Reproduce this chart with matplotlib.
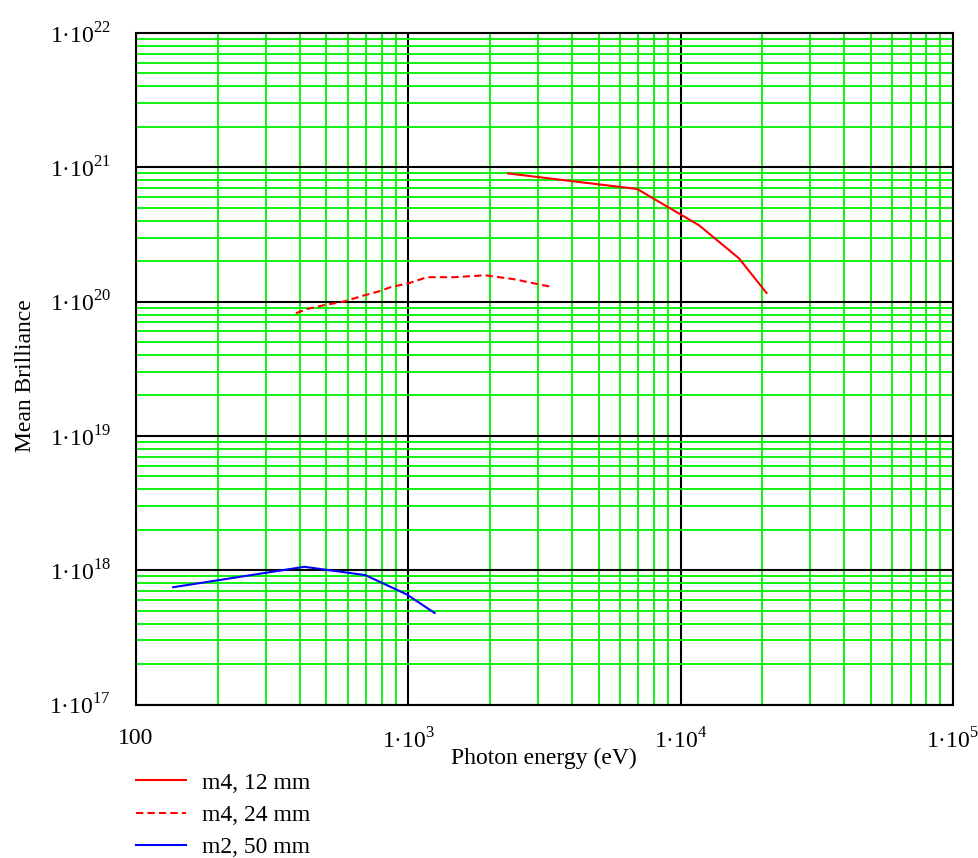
from matplotlib import pyplot as plt

# m4, 12 mm
e_m4_12 = [2330, 6930, 11700, 16400, 20700]
b_m4_12 = [9.0e20, 6.9e20, 3.7e20, 2.1e20, 1.16e20]
# m4, 24 mm
e_m4_24 = [387, 424, 489, 578, 685, 789, 859, 1003, 1172, 1469, 1919, 2438, 2890, 3404]
b_m4_24 = [8.2e19, 8.8e19, 9.4e19, 1.0e20, 1.11e20, 1.2e20, 1.28e20, 1.37e20,
           1.52e20, 1.52e20, 1.57e20, 1.47e20, 1.37e20, 1.28e20]
# m2, 50 mm
e_m2_50 = [137, 415, 695, 988, 1250]
b_m2_50 = [7.47e17, 1.06e18, 9.2e17, 6.6e17, 4.8e17]

x_ticks = [1e2, 1e3, 1e4, 1e5]
x_labels = ["100", "1·10$^{3}$", "1·10$^{4}$", "1·10$^{5}$"]
y_ticks = [1e17, 1e18, 1e19, 1e20, 1e21, 1e22]
y_labels = ["1·10$^{%d}$" % p for p in range(17, 23)]

plt.rcParams['font.family'] = ['Liberation Serif', 'DejaVu Serif']
plt.rcParams['mathtext.fontset'] = 'custom'
plt.rcParams['mathtext.rm'] = 'Liberation Serif'

fig = plt.figure(figsize=(9.79, 8.58), dpi=100)
ax = fig.add_axes([0.1389, 0.1789, 0.8343, 0.7826])
ax.set_xscale('log')
ax.set_yscale('log')
ax.set_xlim(1e2, 1e5)
ax.set_ylim(1e17, 1e22)

ax.grid(which='minor', color='#00f000', linewidth=1.3)
ax.grid(which='major', color='black', linewidth=1.5)
ax.set_axisbelow(True)

l1, = ax.plot(e_m4_12, b_m4_12, color='red', linewidth=1.5)
l2, = ax.plot(e_m4_24, b_m4_24, color='red', linewidth=1.5, linestyle=(0, (3.5, 2)))
l3, = ax.plot(e_m2_50, b_m2_50, color='blue', linewidth=1.5)

ax.set_xticks(x_ticks)
ax.set_xticklabels(x_labels)
ax.set_yticks(y_ticks)
ax.set_yticklabels(y_labels)
ax.tick_params(which='both', length=0, labelsize=17)
ax.tick_params(axis='x', pad=17)
ax.tick_params(axis='y', pad=18)
for s in ax.spines.values():
    s.set_linewidth(1.5)

ax.set_xlabel("Photon energy (eV)", fontsize=17, labelpad=-4)
ax.set_ylabel("Mean Brilliance", fontsize=17)
ax.yaxis.set_label_coords(-0.122, 0.49)

fig.legend([l1, l2, l3], ["m4, 12 mm", "m4, 24 mm", "m2, 50 mm"],
           loc='upper left', bbox_to_anchor=(0.139, 0.1), frameon=False,
           fontsize=17, handlelength=2.1, handletextpad=0.7,
           labelspacing=0.45, borderaxespad=0, borderpad=0)

plt.savefig("out.png", dpi=100)
